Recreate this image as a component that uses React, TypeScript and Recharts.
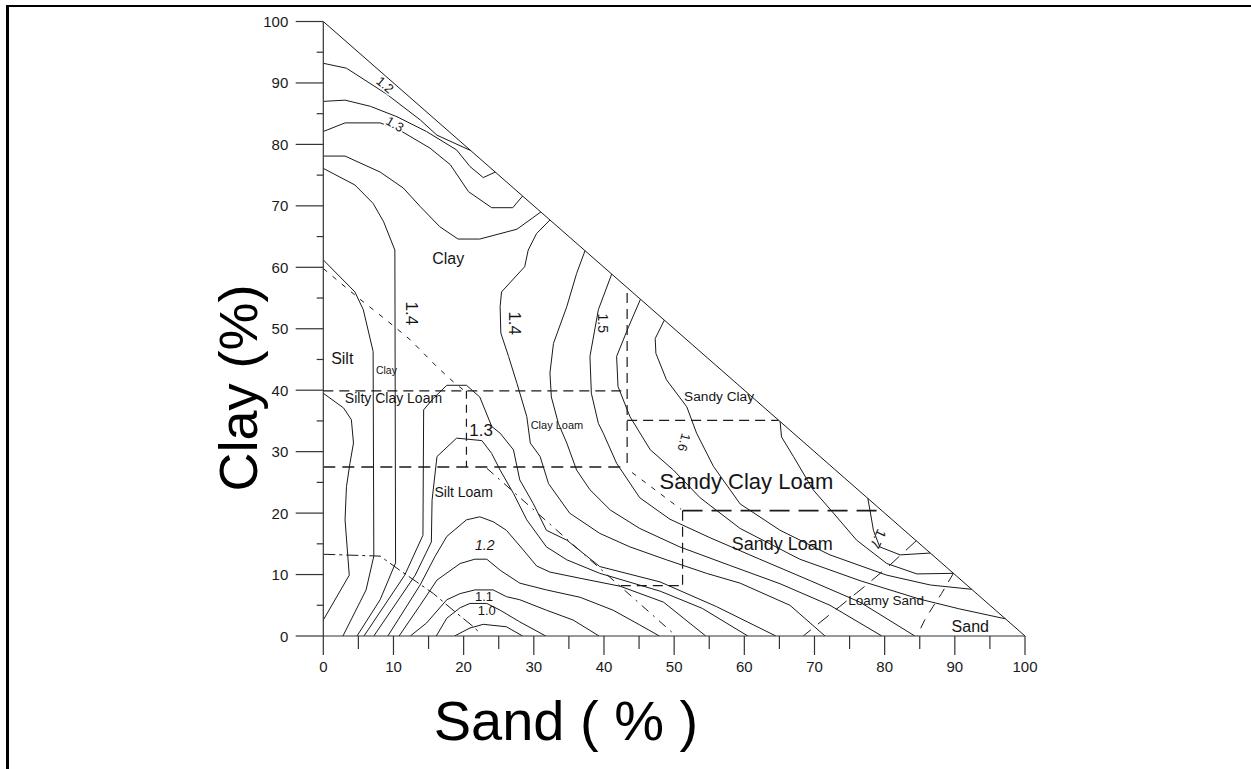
import React from 'react';
import { ComposedChart, Line, Scatter, XAxis, YAxis } from 'recharts';

const FONT = '"Liberation Sans", Arial, Helvetica, sans-serif';

// Axis ticks: labelled every 10 %, short marks every 5 %
const sandTicks = [0, 5, 10, 15, 20, 25, 30, 35, 40, 45, 50, 55, 60, 65, 70, 75, 80, 85, 90, 95, 100];
const clayTicks = [0, 5, 10, 15, 20, 25, 30, 35, 40, 45, 50, 55, 60, 65, 70, 75, 80, 85, 90, 95, 100];

// Texture triangle edge (sand + clay = 100)
const hypotenuse = [[0, 100], [100, 0]];

// Bulk density isolines, [sand %, clay %]
const iso120Top = [[0, 93.2], [3.3, 92.4], [9.0, 88.2], [13.8, 84.0], [16.2, 81.5], [21.0, 79.0]];
const iso125Top = [[0, 87.0], [3.1, 87.2], [6.7, 86.2], [10.5, 84.5], [14.7, 82.1], [19.0, 79.1], [20.9, 76.4], [22.8, 74.6], [24.5, 75.5]];
const iso130Top = [[0, 82.1], [3.1, 83.5], [8.1, 83.5], [10.9, 82.3], [15.2, 79.4], [18.1, 76.7], [20.7, 72.3], [24.0, 69.7], [27.0, 69.7], [28.4, 71.6]];
const iso135Top = [[0, 78.1], [3.1, 78.1], [8.1, 75.5], [11.4, 72.9], [13.8, 69.9], [16.6, 66.6], [19.2, 64.6], [22.3, 64.6], [27.6, 66.2], [31.0, 69.0]];
const iso140West = [[0, 76.1], [4.5, 73.4], [7.1, 70.4], [8.6, 67.4], [10.2, 62.8], [10.3, 11.9], [8.1, 5.9], [4.8, 0]];
const isoSiltEdge = [[0, 39.5], [2.9, 37.1], [4.0, 35.2], [4.3, 31.4], [3.8, 28.1], [3.3, 24.3], [3.1, 18.9], [3.7, 9.9], [0, 2.6]];
const isoSiltClay = [[0, 61.2], [4.5, 56.0], [5.7, 53.1], [7.1, 46.3], [7.2, 13.0], [6.1, 7.5], [2.8, 0]];
const iso130Outer = [[5.8, 0], [11.6, 9.9], [14.2, 16.4], [14.3, 36.8], [15.7, 38.7], [17.6, 40.8], [20.4, 40.8], [22.3, 38.9], [24.0, 34.1], [25.2, 33.0], [27.1, 30.3], [28.0, 25.4], [29.9, 21.6], [31.8, 17.2], [34.7, 15.6], [39.4, 11.3], [48.0, 8.8], [56.0, 4.8], [64.5, 0]];
const iso130Inner = [[7.2, 0], [13.1, 9.9], [15.4, 15.3], [15.5, 22.1], [16.2, 29.2], [19.0, 32.2], [22.6, 31.8], [24.0, 29.7], [25.2, 27.0], [27.1, 23.2], [29.0, 18.9], [31.8, 14.5], [34.7, 12.4], [39.4, 10.2], [48.0, 7.3], [54.0, 4.5], [60.5, 0]];
const iso120Low = [[9.2, 0], [13.8, 8.3], [15.9, 12.9], [17.6, 16.2], [20.4, 18.9], [22.3, 19.4], [24.2, 18.6], [26.1, 17.2], [28.5, 14.0], [30.4, 11.4], [32.3, 10.4], [36.6, 9.4], [42.3, 8.1], [48.5, 5.5], [54.5, 0]];
const iso115Low = [[10.8, 0], [13.8, 5.0], [16.2, 9.1], [19.5, 11.8], [21.6, 12.5], [23.3, 12.5], [25.2, 10.7], [28.0, 8.6], [31.8, 7.5], [36.6, 6.3], [41.3, 4.2], [45.1, 1.8], [47.9, 0]];
const iso110Low = [[12.4, 0], [14.7, 2.1], [17.6, 5.9], [19.5, 6.9], [21.6, 7.5], [24.2, 7.5], [26.1, 6.4], [28.0, 5.9], [31.8, 4.2], [35.6, 2.6], [39.3, 0]];
const iso100Low = [[16.1, 0], [17.6, 2.9], [19.5, 4.6], [20.9, 5.3], [23.3, 5.3], [25.2, 4.2], [28.0, 2.3], [31.7, 0]];
const iso095Low = [[18.7, 0], [20.9, 1.3], [22.8, 1.9], [26.1, 1.5], [28.4, 0]];
const iso140Mid = [[32.3, 67.7], [30.4, 65.5], [29.2, 62.8], [28.7, 60.1], [25.4, 56.0], [25.2, 53.6], [25.3, 49.3], [26.4, 45.5], [27.6, 41.1], [29.0, 35.7], [29.5, 31.4], [30.9, 29.2], [32.1, 24.8], [35.1, 20.0], [39.4, 16.7], [43.7, 14.5], [48.9, 12.4], [54.6, 10.2], [59.4, 8.6], [66.5, 5.0], [71.5, 0]];
const iso145Mid = [[37.3, 62.7], [36.1, 59.0], [34.7, 53.6], [32.8, 47.6], [32.3, 42.8], [32.5, 38.9], [33.5, 34.6], [34.7, 31.4], [36.1, 27.0], [38.0, 23.8], [40.9, 20.5], [45.1, 17.5], [50.8, 14.5], [57.9, 11.5], [65.1, 8.5], [72.2, 5.0], [79.6, 0]];
const iso150Mid = [[41.1, 58.9], [39.2, 53.1], [38.0, 45.5], [38.2, 39.5], [39.2, 34.6], [39.9, 33.0], [41.8, 28.1], [45.1, 22.5], [49.4, 19.0], [55.1, 16.0], [62.2, 12.5], [69.4, 9.0], [76.5, 5.5], [84.3, 0]];
const iso155Mid = [[45.2, 54.8], [43.5, 50.3], [41.8, 45.5], [42.0, 40.6], [43.7, 35.7], [46.6, 30.3], [49.9, 27.0], [53.7, 22.5], [59.4, 17.5], [67.9, 12.5], [76.5, 9.0], [85.0, 6.0], [90.7, 4.4], [97.2, 2.8]];
const iso160Mid = [[48.6, 51.4], [47.3, 48.4], [47.4, 46.0], [48.9, 41.7], [51.8, 37.3], [53.2, 33.0], [55.6, 27.6], [59.4, 21.5], [65.1, 17.2], [72.2, 13.2], [80.3, 9.9], [86.5, 8.3], [92.4, 7.6]];
const iso165East = [[65.1, 34.9], [65.3, 32.4], [67.0, 29.2], [69.8, 23.8], [72.7, 20.0], [76.0, 15.6], [80.3, 11.8], [84.6, 10.1], [89.8, 10.2]];
const iso170East = [[77.6, 22.4], [77.9, 20.5], [78.4, 17.2], [79.3, 14.5], [82.2, 13.2], [86.5, 13.5]];

// Texture class boundaries
const bSiltyClay = [[0, 59.8], [4.8, 55.2], [9.0, 51.4], [12.4, 48.2], [16.2, 43.8], [18.5, 41.4], [20.0, 40.0]];
const bClay40 = [[0, 39.9], [43.3, 39.9]];
const bSand433 = [[43.3, 55.8], [43.3, 27.5]];
const bClay275 = [[0, 27.5], [43.3, 27.5]];
const bSand204 = [[20.4, 39.9], [20.4, 27.5]];
const bClay35 = [[43.3, 35.1], [64.9, 35.1]];
const bLoamWest = [[23.3, 27.3], [49.9, 0.4]];
const bLoamEast = [[44.0, 26.6], [51.0, 20.6]];
const bSand512 = [[51.2, 20.4], [51.2, 8.2]];
const bClay82 = [[42.4, 8.2], [51.2, 8.2]];
const bClay204 = [[51.2, 20.4], [79.6, 20.4]];
const bSilt = [[0, 13.3], [8.1, 13.0], [10.9, 10.7], [13.3, 8.8], [15.7, 6.9], [18.5, 4.2], [21.4, 1.5], [22.3, 0.5]];
const bLoamySand = [[84.5, 15.5], [80.8, 11.6], [77.4, 8.3], [73.6, 4.8], [69.8, 1.3], [68.4, 0]];
const bSand = [[89.8, 10.2], [88.1, 6.9], [86.9, 4.8], [85.7, 2.6], [84.6, 0]];

// Isoline values written on the plot
const isoLabelText = ['1.2', '1.3', '1.4', '1.4', '1.5', '1.3', '1.6', '1.7', '1.2', '1.1', '1.0'];
const isoLabelSand = [8.8, 10.2, 12.6, 27.2, 39.9, 22.5, 51.4, 79.1, 23.0, 22.9, 23.3];
const isoLabelClay = [89.7, 83.3, 52.5, 50.9, 50.9, 33.4, 31.5, 15.8, 14.8, 6.4, 4.2];

// Texture class names
const classText = ['Clay', 'Silt', 'Clay', 'Silty Clay Loam', 'Clay Loam', 'Silt Loam', 'Sandy Clay', 'Sandy Clay Loam', 'Sandy Loam', 'Loamy Sand', 'Sand'];
const classSand = [17.8, 2.7, 9.0, 10.0, 33.3, 20.0, 56.4, 60.3, 65.4, 80.2, 92.2];
const classClay = [61.5, 45.2, 43.3, 38.7, 34.4, 23.4, 38.9, 25.1, 15.0, 5.7, 1.6];

const toPts = (arr: number[][]) => arr.map(([sand, clay]) => ({ sand, clay }));

const solidSeries = [
  hypotenuse, iso120Top, iso125Top, iso130Top, iso135Top, iso140West, isoSiltEdge, isoSiltClay,
  iso130Outer, iso130Inner, iso120Low, iso115Low, iso110Low, iso100Low, iso095Low,
  iso140Mid, iso145Mid, iso150Mid, iso155Mid, iso160Mid, iso165East, iso170East,
];

const dashedSeries: { pts: number[][]; dash: string; w: number }[] = [
  { pts: bSiltyClay, dash: '5 7', w: 1 },
  { pts: bClay40, dash: '10 6', w: 1.2 },
  { pts: bSand433, dash: '10 6', w: 1.2 },
  { pts: bClay275, dash: '12 7', w: 1.3 },
  { pts: bSand204, dash: '8 6', w: 1.2 },
  { pts: bClay35, dash: '10 6', w: 1.2 },
  { pts: bLoamWest, dash: '9 6 2 6', w: 1 },
  { pts: bLoamEast, dash: '5 7', w: 1 },
  { pts: bSand512, dash: '10 6', w: 1.2 },
  { pts: bClay82, dash: '10 6', w: 1.2 },
  { pts: bClay204, dash: '20 9', w: 1.6 },
  { pts: bSilt, dash: '12 4 3 4', w: 1 },
  { pts: bLoamySand, dash: '14 9', w: 1 },
  { pts: bSand, dash: '10 8', w: 1 },
];

const isoLabelStyle = [
  { size: 13, angle: 40, halo: true },
  { size: 13, angle: 30, halo: true },
  { size: 17, angle: 90, halo: false },
  { size: 17, angle: 90, halo: false },
  { size: 14, angle: 90, halo: false },
  { size: 17, angle: 0, halo: false },
  { size: 13, angle: 105, halo: false },
  { size: 14, angle: 115, halo: false },
  { size: 14, angle: 0, halo: false, italic: true },
  { size: 13, angle: 0, halo: false },
  { size: 13, angle: 0, halo: false },
];
const classLabelSize = [16, 16, 10.5, 14, 11, 14, 13.7, 22, 18, 13.5, 16];

const isoLabels = isoLabelText.map((text, i) => ({ sand: isoLabelSand[i], clay: isoLabelClay[i], text, ...isoLabelStyle[i] }));
const classLabels = classText.map((text, i) => ({ sand: classSand[i], clay: classClay[i], text, size: classLabelSize[i], angle: 0, halo: false }));

const TextMark = (props: any) => {
  const { cx, cy, payload } = props;
  if (cx == null || cy == null || !payload) return null;
  const tr = payload.angle ? `rotate(${payload.angle} ${cx} ${cy})` : undefined;
  return (
    <text
      x={cx}
      y={cy}
      textAnchor="middle"
      dominantBaseline="central"
      fontSize={payload.size}
      fontFamily={FONT}
      fontStyle={payload.italic ? 'italic' : 'normal'}
      fill="#151515"
      stroke={payload.halo ? '#fff' : 'none'}
      strokeWidth={payload.halo ? 3 : 0}
      paintOrder="stroke"
      transform={tr}
    >
      {payload.text}
    </text>
  );
};

const XTick = (props: any) => {
  const { x, y, payload } = props;
  const v = payload.value;
  const major = v % 10 === 0;
  return (
    <g>
      <line x1={x} x2={x} y1={y} y2={y + (major ? 19 : 13)} stroke="#333" strokeWidth={1.2} />
      {major && (
        <text x={x} y={y + 36} textAnchor="middle" fontSize={15} fontFamily={FONT} fill="#1a1a1a">
          {v}
        </text>
      )}
    </g>
  );
};

const YTick = (props: any) => {
  const { x, y, payload } = props;
  const v = payload.value;
  const major = v % 10 === 0;
  return (
    <g>
      <line x1={x - (major ? 27.6 : 6.6)} x2={x} y1={y} y2={y} stroke="#333" strokeWidth={1.2} />
      {major && (
        <text x={x - 35} y={y + 5.5} textAnchor="end" fontSize={15} fontFamily={FONT} fill="#1a1a1a">
          {v}
        </text>
      )}
    </g>
  );
};

const SandTitle = (props: any) => {
  const vb = props.viewBox || {};
  const x = vb.x + 242.7;
  const y = vb.y + 104;
  return (
    <text x={x} y={y} textAnchor="middle" fontSize={56} fontFamily={FONT} fill="#000">
      Sand ( % )
    </text>
  );
};

const ClayTitle = (props: any) => {
  const vb = props.viewBox || {};
  const x = vb.x - 6;
  const y = 388;
  return (
    <text x={x} y={y} textAnchor="middle" fontSize={54} fontFamily={FONT} fill="#000" transform={`rotate(-90 ${x} ${y})`}>
      Clay (%)
    </text>
  );
};

const W = 1251;
const H = 769;

export default function App() {
  return (
    <div style={{ position: 'absolute', left: 0, top: 0, width: W, height: H, background: '#fff', overflow: 'hidden' }}>
      <div
        style={{
          position: 'absolute',
          left: 6,
          top: 5,
          width: W + 20,
          height: H + 20,
          borderTop: '2px solid #000',
          borderLeft: '3px solid #000',
          boxSizing: 'border-box',
        }}
      />
      <div style={{ position: 'absolute', left: 0, top: 0 }}>
        <ComposedChart width={W} height={H} margin={{ top: 21.5, right: 226, bottom: 103, left: 263.3 }}>
          <XAxis
            type="number"
            dataKey="sand"
            domain={[0, 100]}
            ticks={sandTicks}
            interval={0}
            allowDataOverflow
            height={30}
            tickSize={0}
            tickMargin={0}
            tickLine={false}
            axisLine={{ stroke: '#333', strokeWidth: 1.2 }}
            tick={<XTick />}
            label={<SandTitle />}
          />
          <YAxis
            type="number"
            dataKey="clay"
            domain={[0, 100]}
            ticks={clayTicks}
            interval={0}
            allowDataOverflow
            width={60}
            tickSize={0}
            tickMargin={0}
            tickLine={false}
            axisLine={{ stroke: '#333', strokeWidth: 1.2 }}
            tick={<YTick />}
            label={<ClayTitle />}
          />
          {solidSeries.map((d, i) => (
            <Line
              key={`iso-${i}`}
              data={toPts(d)}
              dataKey="clay"
              type="linear"
              stroke="#1a1a1a"
              strokeWidth={1}
              dot={false}
              activeDot={false}
              isAnimationActive={false}
            />
          ))}
          {dashedSeries.map((d, i) => (
            <Line
              key={`bnd-${i}`}
              data={toPts(d.pts)}
              dataKey="clay"
              type="linear"
              stroke="#1a1a1a"
              strokeWidth={d.w}
              strokeDasharray={d.dash}
              dot={false}
              activeDot={false}
              isAnimationActive={false}
            />
          ))}
          <Scatter data={classLabels} dataKey="clay" shape={<TextMark />} isAnimationActive={false} />
          <Scatter data={isoLabels} dataKey="clay" shape={<TextMark />} isAnimationActive={false} />
        </ComposedChart>
      </div>
    </div>
  );
}
